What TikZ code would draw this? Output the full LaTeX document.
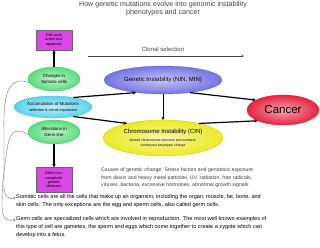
\documentclass[tikz,border=0pt]{standalone}
\usepackage{fontspec}
\setmainfont{Liberation Sans}
\usetikzlibrary{arrows.meta,positioning,shapes.geometric}
\definecolor{boxmag}{HTML}{DC46E6}
\definecolor{greenedge}{HTML}{5CDC7C}
\definecolor{cyanedge}{HTML}{5CD4EC}
\definecolor{blueedge}{HTML}{7474E4}
\definecolor{yellowedge}{HTML}{EAEA24}
\definecolor{rededge}{HTML}{E8223E}
\definecolor{textgray}{HTML}{444444}

\begin{document}
\begin{tikzpicture}[x=1pt, y=-1pt, >=Stealth,
  magbox/.style={draw=black!60, line width=0.4pt, fill=boxmag, minimum width=36pt, align=center, font=\fontsize{3.8}{4.4}\selectfont, inner sep=1pt},
  blob/.style={ellipse, draw=#1!85!black, line width=0.3pt, shading=radial, inner color=white!60!#1, outer color=#1, inner sep=0pt, align=center},
  bigarrow/.style={->, line width=1.2pt, >={Stealth[length=3.4pt,width=3.4pt]}},
  curve/.style={->, line width=0.35pt, black!60, >={Stealth[length=2pt,width=2pt]}}]
\useasboundingbox[fill=white] (0,0) rectangle (320,247);

% title
\node[font=\fontsize{7.1}{8}\selectfont, textgray, align=center] (title) at (163,9) {How genetic mutations evolve into genomic instability\\phenotypes and cancer};

% left column
\node[magbox, minimum height=20pt] (cell) at (54,40) {Cell-cycle\\arrest and\\apoptosis};
\node[blob=greenedge, minimum width=52pt, minimum height=24pt, font=\fontsize{4.4}{5.4}\selectfont] (som) at (54,79) {Changes in\\Somatic cells};
\node[blob=cyanedge, minimum width=78pt, minimum height=22pt, font=\fontsize{4.4}{6}\selectfont] (acc) at (53,107) {Accumulation of Mutations\\{\fontsize{3.8}{4.5}\selectfont selection \& clonal expansion}};
\node[blob=greenedge, minimum width=52pt, minimum height=24pt, font=\fontsize{4.4}{5.4}\selectfont] (germ) at (54,132) {Alterations in\\Germ line};
\node[magbox, minimum height=25pt] (other) at (54,180) {Other non-\\neoplastic\\genetic\\diseases};

\draw[bigarrow] (som) -- (cell);
\draw[bigarrow] (germ) -- (other);

% instability
\node[blob=blueedge, minimum width=118pt, minimum height=28pt, font=\fontsize{6}{7}\selectfont] (gen) at (163,80) {Genetic Instability (NIN, MIN)};
\node[blob=yellowedge, minimum width=120pt, minimum height=36pt, font=\fontsize{6}{7}\selectfont] (chr) at (163,138) {Chromosome Instability (CIN)\\[1pt]{\fontsize{3.4}{4}\selectfont Altered chromosome structure and numbers,}\\[-1.5pt]{\fontsize{3.4}{4}\selectfont continuous karyotypic change}};
\node[blob=rededge, minimum width=72pt, minimum height=30pt, font=\fontsize{11.5}{12}\selectfont] (cancer) at (283,110) {Cancer};

\draw[bigarrow] (acc.25) -- (gen.205);
\draw[bigarrow] (acc.335) -- (chr.158);
\draw[->, line width=1pt, >={Stealth[length=3pt,width=3pt]}] (gen) -- (chr);
\draw[bigarrow] (gen.335) -- (cancer.160);
\draw[bigarrow] (chr.22) -- (cancer.203);

% clonal selection
\coordinate (clstart) at (88,56);
\coordinate (clend) at (244,56);
\draw[->, line width=0.5pt, textgray, >={Stealth[length=2.6pt,width=2.2pt]}] (clstart) -- (clend);
\node[font=\fontsize{6}{6}\selectfont, textgray] (clonal) at (163,49) {Clonal selection};

% notes
\node[font=\fontsize{5.2}{7.6}\selectfont, black!75, align=left, anchor=north west, inner sep=0pt] (causes) at (101,167.5) {Causes of genetic change: Stress factors and genotoxic exposure\\from dioxin and heavy metal particles, UV, radiation, free radicals,\\viruses, bacteria, excessive hormones, abnormal growth signals.};
\node[font=\fontsize{5.55}{8}\selectfont, align=left, anchor=north west, inner sep=0pt] (somtext) at (16,194.5) {Somatic cells are all the cells that make up an organism, including the organ, muscle, fat, bone, and\\skin cells. The only exceptions are the egg and sperm cells, also called germ cells.};
\node[font=\fontsize{5.55}{8}\selectfont, align=left, anchor=north west, inner sep=0pt] (germtext) at (16,216.5) {Germ cells are specialized cells which are involved in reproduction. The most well known examples of\\this type of cell are gametes, the sperm and eggs which come together to create a zygote which can\\develop into a fetus.};

\coordinate (somtip) at (15.5,197.5);
\coordinate (germtip) at (15.5,219.5);
\draw[curve] (som.188) .. controls (10,76) and (3,90) .. (4,130) -- (4,186) .. controls (4,197) and (9,200) .. (somtip);
\draw[curve] (germ.186) .. controls (14,126) and (9,134) .. (7,150) .. controls (5,165) and (2,180) .. (2,205) .. controls (2,220) and (8,222) .. (germtip);
\end{tikzpicture}
\end{document}
